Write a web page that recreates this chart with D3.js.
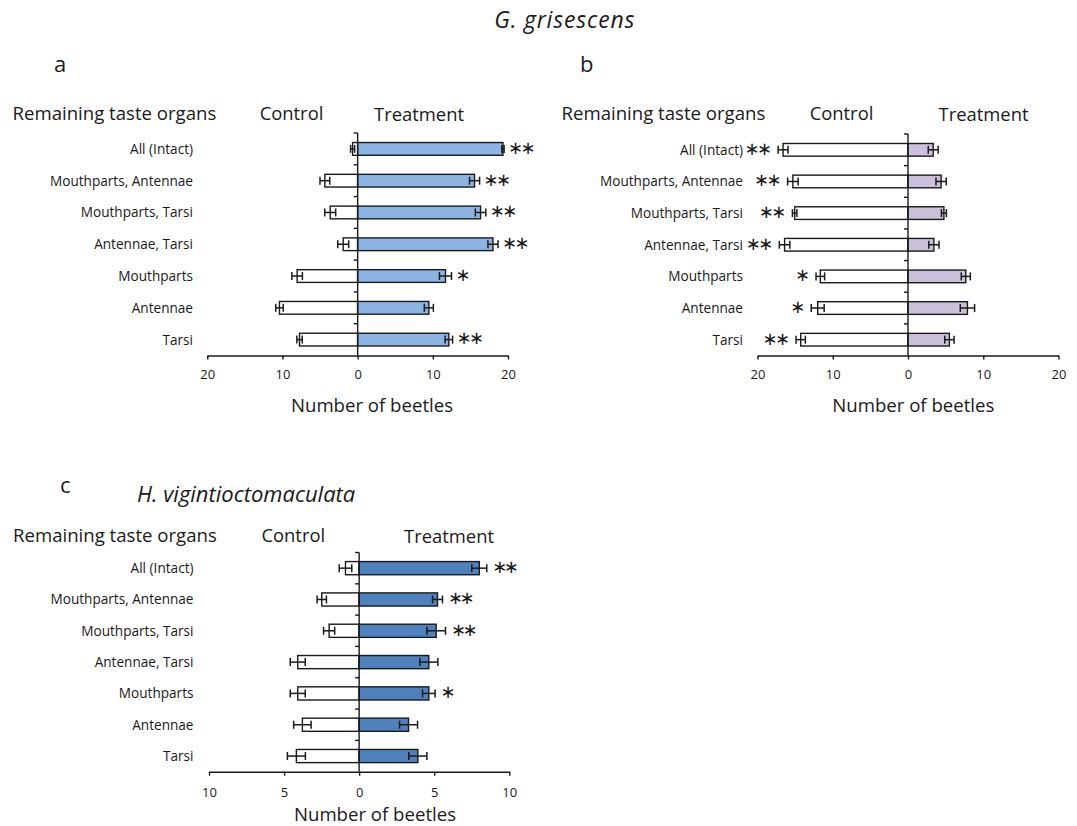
<!DOCTYPE html>
<html>
<head>
<meta charset="utf-8">
<script src="https://cdn.jsdelivr.net/npm/d3@7"></script>
<style>
  html, body { margin: 0; padding: 0; background: #fff; }
  svg { display: block; }
  text { font-family: "Open Sans", "DejaVu Sans", sans-serif; fill: #1a1a1a; }
</style>
</head>
<body>
<svg id="chart" width="1077" height="826"></svg>
<script>
// ---------------- DATA ----------------
const categories = ["All (Intact)", "Mouthparts, Antennae", "Mouthparts, Tarsi", "Antennae, Tarsi", "Mouthparts", "Antennae", "Tarsi"];

// Panel a: G. grisescens
const aControl    = [0.67, 4.36, 3.65, 1.92, 8.05, 10.4, 7.73];
const aControlErr = [0.27, 0.65, 0.73, 0.73, 0.70, 0.50, 0.36];
const aTreat      = [19.33, 15.55, 16.35, 18.0, 11.68, 9.47, 12.13];
const aTreatErr   = [0.15, 0.67, 0.70, 0.67, 0.80, 0.60, 0.50];
const aSig        = ["**", "**", "**", "**", "*", "", "**"];

// Panel b: G. grisescens
const bControl    = [16.6, 15.3, 15.06, 16.4, 11.65, 12.0, 14.26];
const bControlErr = [0.66, 0.70, 0.30, 0.70, 0.57, 0.86, 0.62];
const bTreat      = [3.35, 4.4, 4.77, 3.44, 7.68, 7.9, 5.5];
const bTreatErr   = [0.66, 0.68, 0.33, 0.68, 0.60, 0.95, 0.62];
const bSig        = ["**", "**", "**", "**", "*", "*", "**"];

// Panel c: H. vigintioctomaculata
const cControl    = [0.91, 2.49, 2.0, 4.09, 4.09, 3.78, 4.18];
const cControlErr = [0.42, 0.31, 0.37, 0.50, 0.50, 0.58, 0.60];
const cTreat      = [8.0, 5.22, 5.13, 4.64, 4.64, 3.29, 3.91];
const cTreatErr   = [0.50, 0.33, 0.62, 0.60, 0.42, 0.60, 0.60];
const cSig        = ["**", "**", "**", "", "*", "", ""];

const ticksAB = [-20, -10, 0, 10, 20];
const ticksC  = [-10, -5, 0, 5, 10];

// ---------------- DRAW ----------------
const svg = d3.select("#chart");
const INK = "#1a1a1a";
const STAR_SIZE = 18;
const STAR_ADV = 0.838 * STAR_SIZE; // advance width of U+2217 in DejaVu Sans

function drawPanel(p) {
  const g = svg.append("g");
  const x = d3.scaleLinear().domain([-p.max, p.max]).range(p.xRange);
  const y = d3.scaleBand().domain(categories).range(p.yRange).padding(0);
  const bw = y.bandwidth();
  const bh = bw * p.barRatio;
  const rows = categories.map((c, i) => ({
    cat: c, con: p.control[i], conErr: p.controlErr[i],
    tr: p.treat[i], trErr: p.treatErr[i], sig: p.sig[i]
  }));
  const cy = d => y(d.cat) + bw / 2;

  // control bars (to the left)
  g.selectAll(".con").data(rows).join("rect")
    .attr("x", d => x(-d.con)).attr("width", d => x(0) - x(-d.con))
    .attr("y", d => cy(d) - bh / 2).attr("height", bh)
    .attr("fill", "#fff").attr("stroke", INK).attr("stroke-width", 1.4);
  // treatment bars
  g.selectAll(".tr").data(rows).join("rect")
    .attr("x", x(0)).attr("width", d => x(d.tr) - x(0))
    .attr("y", d => cy(d) - bh / 2).attr("height", bh)
    .attr("fill", p.fill).attr("stroke", INK).attr("stroke-width", 1.4);

  // error bars
  const cap = 4;
  function err(sel, val, e) {
    sel.each(function (d) {
      const gg = d3.select(this);
      const v = val(d), ee = e(d), yc = cy(d);
      const x1 = x(v - ee), x2 = x(v + ee);
      gg.append("line").attr("x1", x1).attr("x2", x2).attr("y1", yc).attr("y2", yc);
      gg.append("line").attr("x1", x1).attr("x2", x1).attr("y1", yc - cap).attr("y2", yc + cap);
      gg.append("line").attr("x1", x2).attr("x2", x2).attr("y1", yc - cap).attr("y2", yc + cap);
    });
  }
  const eg = g.append("g").attr("stroke", INK).attr("stroke-width", 1.5);
  err(eg.selectAll(".ec").data(rows).join("g"), d => -d.con, d => d.conErr);
  err(eg.selectAll(".et").data(rows).join("g"), d => d.tr, d => d.trErr);

  // vertical axis at zero with ticks at band boundaries
  g.append("line").attr("x1", x(0)).attr("x2", x(0))
    .attr("y1", p.yRange[0]).attr("y2", p.yRange[1])
    .attr("stroke", INK).attr("stroke-width", 1.4);
  g.selectAll(".yt").data(categories).join("line")
    .attr("x1", x(0) - 4).attr("x2", x(0))
    .attr("y1", d => y(d)).attr("y2", d => y(d))
    .attr("stroke", INK).attr("stroke-width", 1.4);

  // bottom axis
  const ax = d3.axisBottom(x).tickValues(p.ticks).tickFormat(d => Math.abs(d))
    .tickSize(4).tickSizeOuter(0).tickPadding(p.tickPad);
  const axg = g.append("g").attr("transform", `translate(0,${p.yRange[1]})`).call(ax);
  axg.select(".domain").attr("stroke", INK).attr("stroke-width", 1.4);
  axg.selectAll(".tick line").attr("stroke", INK).attr("stroke-width", 1.4);
  axg.selectAll(".tick text").attr("font-family", "Open Sans").attr("font-size", 13).attr("fill", INK);

  // category labels
  g.selectAll(".lab").data(rows).join("text")
    .attr("x", p.labelX).attr("y", d => cy(d)).attr("dy", "0.36em")
    .attr("text-anchor", "end").attr("font-size", 13.6).text(d => d.cat);

  // significance stars: one text per row, first/last star centre at a gap from the error bar end
  const spacing = p.sigPitch - STAR_ADV;
  g.selectAll(".sig").data(rows.filter(d => d.sig)).join("text")
    .attr("x", d => {
      const n = d.sig.length;
      const firstCentre = p.sigSide === "right"
        ? x(d.tr + d.trErr) + p.sigGap
        : x(-d.con - d.conErr) - p.sigGap - (n - 1) * p.sigPitch;
      return firstCentre - STAR_ADV / 2;
    })
    .attr("y", d => cy(d)).attr("dy", "0.27em")
    .attr("text-anchor", "start")
    .attr("font-family", "DejaVu Sans").attr("font-size", STAR_SIZE)
    .attr("letter-spacing", spacing)
    .text(d => d.sig.replace(/\*/g, "\u2217"));

  // headers
  g.append("text").attr("x", p.headX).attr("y", p.headY).attr("font-size", 18.6).text("Remaining taste organs");
  g.append("text").attr("x", p.conX).attr("y", p.headY).attr("text-anchor", "middle").attr("font-size", 18.4).text("Control");
  g.append("text").attr("x", p.trX).attr("y", p.headY + 1).attr("text-anchor", "middle").attr("font-size", 18.4).text("Treatment");
  g.append("text").attr("x", p.titleX).attr("y", p.titleY).attr("text-anchor", "middle").attr("font-size", 18.6).text("Number of beetles");
  g.append("text").attr("x", p.letterX).attr("y", p.letterY).attr("font-size", 22).text(p.letter);
}

drawPanel({
  letter: "a", letterX: 54, letterY: 72,
  max: 20, ticks: ticksAB, xRange: [207.3, 508], yRange: [133, 355.5], barRatio: 0.4, tickPad: 10.5,
  control: aControl, controlErr: aControlErr, treat: aTreat, treatErr: aTreatErr, sig: aSig,
  sigSide: "right", sigGap: 11.5, sigPitch: 12.5, fill: "#8EB4E3",
  labelX: 193, headX: 12.5, headY: 120, conX: 291.5, trX: 419, titleX: 372, titleY: 411.5
});
drawPanel({
  letter: "b", letterX: 580, letterY: 72,
  max: 20, ticks: ticksAB, xRange: [757.5, 1058.5], yRange: [134, 355.5], barRatio: 0.4, tickPad: 10.5,
  control: bControl, controlErr: bControlErr, treat: bTreat, treatErr: bTreatErr, sig: bSig,
  sigSide: "left", sigGap: 13.5, sigPitch: 12.5, fill: "#CCC1DA",
  labelX: 743, headX: 561.5, headY: 120, conX: 841.5, trX: 983.5, titleX: 913.3, titleY: 411.5
});
drawPanel({
  letter: "c", letterX: 60, letterY: 493,
  max: 10, ticks: ticksC, xRange: [209, 509.3], yRange: [552.5, 771.7], barRatio: 0.42, tickPad: 11.8,
  control: cControl, controlErr: cControlErr, treat: cTreat, treatErr: cTreatErr, sig: cSig,
  sigSide: "right", sigGap: 13, sigPitch: 11.5, fill: "#4F81BD",
  labelX: 193.5, headX: 13, headY: 541.5, conX: 293.3, trX: 449, titleX: 375, titleY: 821
});

// species titles
svg.append("text").attr("x", 564.7).attr("y", 28).attr("text-anchor", "middle")
  .attr("font-size", 23).attr("letter-spacing", 0.8).attr("font-style", "italic").text("G. grisescens");
svg.append("text").attr("x", 137).attr("y", 502)
  .attr("font-size", 22).attr("font-style", "italic").text("H. vigintioctomaculata");
</script>
</body>
</html>
